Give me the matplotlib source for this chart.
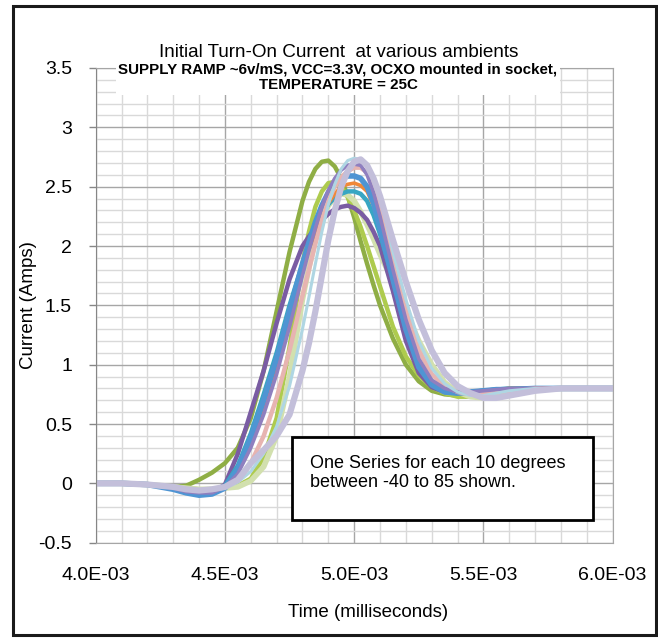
import matplotlib
matplotlib.use('Agg')
import matplotlib.pyplot as plt
from matplotlib import font_manager
from matplotlib.patches import Rectangle
from matplotlib.ticker import MultipleLocator, FuncFormatter

# sample times (x1e-3)
time_ms = [4.00, 4.10, 4.20, 4.30, 4.35, 4.40, 4.45, 4.50, 4.55, 4.60, 4.65, 4.70, 4.75, 4.80,
           4.825, 4.85, 4.875, 4.90, 4.925, 4.95, 4.975, 5.00, 5.025, 5.05, 5.075, 5.10,
           5.15, 5.20, 5.25, 5.30, 5.35, 5.40, 5.45, 5.50, 5.55, 5.60,
           5.70, 5.80, 5.90, 6.00]

olive = [0.00, 0.00, -0.01, -0.03, -0.02, 0.03, 0.09, 0.17, 0.30, 0.55, 0.95, 1.45, 1.95, 2.38,
         2.54, 2.65, 2.71, 2.72, 2.67, 2.57, 2.42, 2.24, 2.04, 1.85, 1.67, 1.50,
         1.22, 1.00, 0.86, 0.78, 0.75, 0.74, 0.74, 0.75, 0.77, 0.78,
         0.79, 0.80, 0.80, 0.80]
lime = [0.00, 0.00, -0.01, -0.03, -0.04, -0.05, -0.05, -0.04, -0.02, 0.04, 0.22, 0.55, 1.15, 1.85,
        2.12, 2.33, 2.46, 2.53, 2.54, 2.50, 2.41, 2.30, 2.16, 2.00, 1.83, 1.66,
        1.32, 1.07, 0.91, 0.81, 0.76, 0.73, 0.73, 0.74, 0.76, 0.78,
        0.80, 0.80, 0.80, 0.80]
light_green = [0.00, 0.00, -0.01, -0.03, -0.04, -0.05, -0.05, -0.04, -0.03, 0.02, 0.14, 0.40, 0.90, 1.55,
               1.82, 2.05, 2.22, 2.34, 2.41, 2.44, 2.43, 2.38, 2.29, 2.18, 2.06, 1.93,
               1.70, 1.45, 1.20, 1.00, 0.85, 0.77, 0.73, 0.72, 0.73, 0.75,
               0.79, 0.80, 0.80, 0.80]
purple = [0.00, 0.00, -0.01, -0.04, -0.07, -0.09, -0.08, -0.01, 0.25, 0.60, 0.95, 1.35, 1.72, 2.00,
          2.08, 2.15, 2.22, 2.27, 2.31, 2.33, 2.34, 2.32, 2.28, 2.22, 2.12, 2.00,
          1.62, 1.20, 0.93, 0.81, 0.77, 0.76, 0.77, 0.78, 0.79, 0.79,
          0.80, 0.80, 0.80, 0.80]
teal = [0.00, 0.00, -0.01, -0.04, -0.06, -0.08, -0.07, -0.02, 0.15, 0.42, 0.75, 1.10, 1.50, 1.85,
        2.01, 2.15, 2.26, 2.35, 2.41, 2.44, 2.46, 2.46, 2.44, 2.38, 2.26, 2.10,
        1.72, 1.30, 1.00, 0.86, 0.79, 0.77, 0.77, 0.78, 0.79, 0.80,
        0.80, 0.80, 0.80, 0.80]
orange = [0.00, 0.00, -0.01, -0.04, -0.06, -0.08, -0.08, -0.03, 0.10, 0.35, 0.65, 1.00, 1.40, 1.80,
          1.97, 2.12, 2.25, 2.36, 2.44, 2.50, 2.52, 2.53, 2.51, 2.46, 2.34, 2.18,
          1.75, 1.32, 1.02, 0.86, 0.79, 0.77, 0.77, 0.78, 0.79, 0.80,
          0.80, 0.80, 0.80, 0.80]
blue = [0.00, 0.00, -0.01, -0.05, -0.08, -0.10, -0.09, -0.04, 0.12, 0.38, 0.70, 1.05, 1.45, 1.85,
        2.03, 2.20, 2.34, 2.45, 2.52, 2.57, 2.59, 2.59, 2.57, 2.50, 2.36, 2.15,
        1.72, 1.30, 0.98, 0.83, 0.77, 0.76, 0.77, 0.78, 0.79, 0.79,
        0.80, 0.80, 0.80, 0.80]
pink = [0.00, 0.00, -0.01, -0.03, -0.05, -0.06, -0.06, -0.03, 0.03, 0.17, 0.40, 0.72, 1.12, 1.58,
        1.80, 2.02, 2.22, 2.38, 2.50, 2.58, 2.63, 2.66, 2.66, 2.62, 2.52, 2.35,
        1.85, 1.45, 1.12, 0.92, 0.82, 0.77, 0.75, 0.76, 0.77, 0.78,
        0.80, 0.80, 0.80, 0.80]
violet = [0.00, 0.00, -0.01, -0.04, -0.07, -0.08, -0.08, -0.03, 0.08, 0.30, 0.58, 0.92, 1.32, 1.75,
          1.96, 2.15, 2.33, 2.47, 2.57, 2.64, 2.68, 2.69, 2.68, 2.60, 2.45, 2.25,
          1.80, 1.38, 1.05, 0.87, 0.80, 0.77, 0.77, 0.78, 0.79, 0.80,
          0.80, 0.80, 0.80, 0.80]
light_blue = [0.00, 0.00, -0.01, -0.03, -0.05, -0.06, -0.06, -0.04, 0.01, 0.10, 0.25, 0.48, 0.82, 1.30,
              1.57, 1.85, 2.12, 2.35, 2.52, 2.65, 2.72, 2.74, 2.73, 2.67, 2.56, 2.42,
              1.95, 1.55, 1.20, 0.97, 0.84, 0.77, 0.74, 0.74, 0.76, 0.78,
              0.80, 0.80, 0.80, 0.80]
lavender = [0.00, 0.00, -0.01, -0.03, -0.05, -0.06, -0.05, -0.03, 0.03, 0.17, 0.28, 0.40, 0.58, 0.95,
            1.18, 1.45, 1.75, 2.05, 2.30, 2.50, 2.63, 2.71, 2.73, 2.68, 2.57, 2.42,
            2.05, 1.70, 1.38, 1.12, 0.93, 0.82, 0.76, 0.72, 0.72, 0.74,
            0.78, 0.80, 0.80, 0.80]

series = [
    (olive, '#8FAE45', 3.2),
    (lime, '#AECB4E', 3.2),
    (light_green, '#D2E0AE', 4.0),
    (purple, '#7A5CA3', 3.2),
    (teal, '#38A6C3', 3.2),
    (orange, '#F08838', 2.6),
    (blue, '#4F95D3', 4.0),
    (pink, '#E7B4B1', 3.2),
    (violet, '#8F7FBF', 2.6),
    (light_blue, '#AFD6E3', 2.2),
    (lavender, '#C3BFDA', 4.5),
]

names = {f.name for f in font_manager.fontManager.ttflist}
narrow = 'Liberation Sans Narrow' if 'Liberation Sans Narrow' in names else 'Liberation Sans'
plt.rcParams['font.family'] = [narrow, 'DejaVu Sans']

fig = plt.figure(figsize=(6.58, 6.39), dpi=100)
ax = fig.add_axes([0.1454, 0.1507, 0.7857, 0.7429])

time = [t * 1e-3 for t in time_ms]
for vals, color, lw in series:
    ax.plot(time, vals, color=color, lw=lw, solid_joinstyle='round', solid_capstyle='round')

ax.set_xlim(4.0e-3, 6.0e-3)
ax.set_ylim(-0.5, 3.5)
ax.xaxis.set_major_locator(MultipleLocator(0.5e-3))
ax.xaxis.set_minor_locator(MultipleLocator(0.1e-3))
ax.yaxis.set_major_locator(MultipleLocator(0.5))
ax.yaxis.set_minor_locator(MultipleLocator(0.1))
ax.xaxis.set_major_formatter(FuncFormatter(lambda v, p: f'{v:.1E}'))
ax.yaxis.set_major_formatter(FuncFormatter(lambda v, p: f'{v:g}'))
ax.grid(which='major', color='#A6A6A6', lw=1.0)
ax.grid(which='minor', color='#D9D9D9', lw=1.0)
ax.set_axisbelow(True)
ax.tick_params(axis='x', which='both', length=0, pad=17.5, labelsize=14)
ax.tick_params(axis='y', which='major', length=5, width=1, color='#868686', pad=12, labelsize=14)
ax.tick_params(axis='y', which='minor', length=0)
for s in ax.spines.values():
    s.set_color('#A6A6A6')
ax.spines['left'].set_color('#868686')

fig.text(0.043, 0.522, 'Current (Amps)', rotation=90, ha='center', va='center', fontsize=13.5)
fig.text(0.559, 0.042, 'Time (milliseconds)', ha='center', va='center', fontsize=13.5)
fig.text(0.514, 0.9186, 'Initial Turn-On Current  at various ambients', ha='center', va='center', fontsize=13.6)
ax.text(0.4687, 0.981, 'SUPPLY RAMP ~6v/mS, VCC=3.3V, OCXO mounted in socket,\nTEMPERATURE = 25C',
        transform=ax.transAxes, ha='center', va='center', fontsize=10.9, fontweight='bold',
        linespacing=1.15, bbox=dict(facecolor='white', edgecolor='none', pad=2), zorder=5)

ax.add_patch(Rectangle((0.380, 0.048), 0.582, 0.175, transform=ax.transAxes,
                       facecolor='white', edgecolor='black', lw=2, zorder=6))
ax.text(0.414, 0.1475, 'One Series for each 10 degrees\nbetween -40 to 85 shown.',
        transform=ax.transAxes, ha='left', va='center', fontsize=13, linespacing=1.15, zorder=7)

fig.patches.append(Rectangle((13 / 658, 1 - 635 / 639), 643 / 658, 629 / 639,
                             transform=fig.transFigure, fill=False, edgecolor='#1A1A1A', lw=2.2))

fig.savefig('out.png', dpi=100)
